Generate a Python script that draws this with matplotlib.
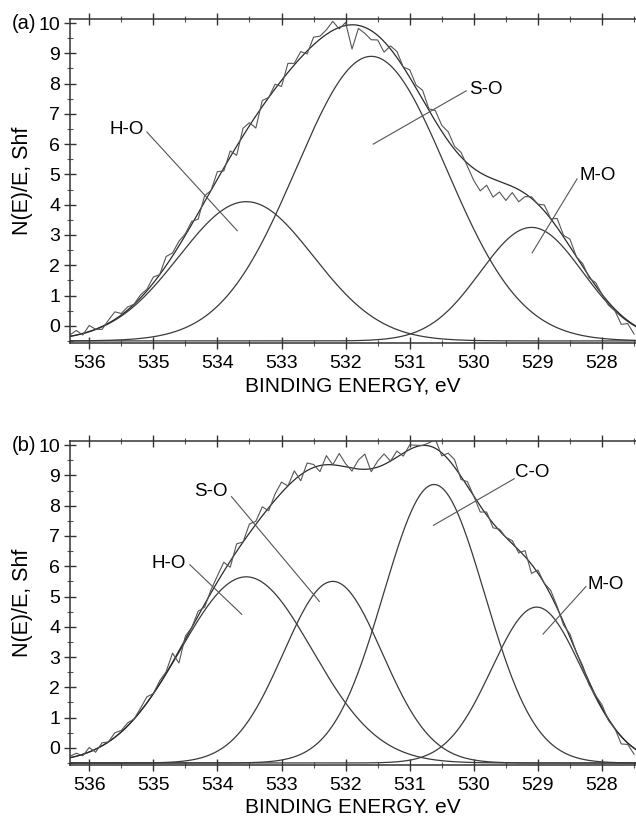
import numpy as np
import matplotlib
matplotlib.use("Agg")
import matplotlib.pyplot as plt
from matplotlib.ticker import MultipleLocator

plt.rcParams["font.family"] = ["Liberation Sans", "DejaVu Sans"]

# fitted components: name, centre (eV), height above baseline, sigma (eV)
baseline = -0.5
peaks_a_names = ["H-O", "S-O", "M-O"]
peaks_a_center = [533.55, 531.6, 529.1]
peaks_a_height = [4.6, 9.4, 3.75]
peaks_a_sigma = [1.05, 1.17, 0.8]

peaks_b_names = ["H-O", "S-O", "C-O", "M-O"]
peaks_b_center = [533.55, 532.2, 530.62, 529.02]
peaks_b_height = [6.15, 6.0, 9.2, 5.15]
peaks_b_sigma = [1.03, 0.77, 0.79, 0.7]

# measured spectrum, read as offsets from the fit envelope, 536.3 -> 527.5 eV in 0.1 eV steps
raw_energy = np.round(np.arange(536.3, 527.45, -0.1), 1)
resid_a = [0.05, 0.15, -0.05, 0.2, 0.0, -0.1, 0.1, 0.25, 0.05, 0.1,
           0.0, 0.1, 0.05, 0.2, 0.0, 0.3, 0.1, 0.15, 0.05, 0.1,
           -0.2, 0.2, 0.0, 0.25, -0.1, 0.2, -0.3, 0.25, 0.1, -0.4,
           0.2, 0.0, 0.15, -0.2, 0.3, 0.05, 0.2, -0.1, 0.25, 0.1,
           0.15, 0.3, -0.05, 0.1, -0.8, -0.1, -0.2, -0.3, -0.15, -0.35,
           0.1, 0.2, 0.0, 0.25, 0.1, 0.3, 0.05, 0.35, 0.2, 0.3,
           0.1, 0.15, -0.1, -0.4, -0.6, -0.3, -0.6, -0.35, -0.55, -0.2,
           -0.4, -0.1, 0.05, 0.0, 0.2, 0.0, 0.3, 0.05, 0.25, 0.0,
           0.1, -0.05, 0.1, 0.0, -0.1, -0.05, -0.3, -0.1, -0.3]
resid_b = [0.05, 0.1, -0.05, 0.15, -0.1, 0.1, 0.0, 0.15, 0.05, 0.1,
           0.0, 0.1, 0.2, 0.0, 0.1, 0.05, 0.3, -0.4, 0.1, 0.0,
           0.15, -0.1, 0.1, 0.2, 0.3, -0.2, 0.25, 0.0, 0.3, 0.1,
           0.3, -0.1, 0.2, 0.35, 0.0, 0.3, -0.2, 0.25, 0.1, -0.2,
           0.3, 0.0, 0.4, 0.1, -0.1, 0.3, 0.5, -0.1, 0.2, 0.35,
           0.0, 0.2, -0.1, 0.15, 0.05, 0.0, 0.1, 0.3, -0.1, 0.2,
           0.25, -0.1, 0.15, 0.0, -0.2, 0.1, -0.15, 0.05, 0.0, 0.1,
           -0.1, 0.2, -0.3, 0.1, 0.0, 0.15, 0.05, -0.1, 0.1, 0.0,
           0.05, -0.1, 0.0, 0.1, -0.05, 0.0, -0.25, -0.05, -0.2]

x_ticks = [536, 535, 534, 533, 532, 531, 530, 529, 528]
y_ticks = [0, 1, 2, 3, 4, 5, 6, 7, 8, 9, 10]

# label text position, line start, line end (data coords)
labels_a = [("H-O", (535.41, 6.47), (535.1, 6.4), (533.69, 3.14)),
            ("S-O", (529.81, 7.82), (530.12, 7.76), (531.57, 6.0)),
            ("M-O", (528.07, 4.98), (528.39, 4.85), (529.09, 2.41))]
labels_b = [("H-O", (534.76, 6.08), (534.43, 6.05), (533.62, 4.41)),
            ("S-O", (534.10, 8.46), (533.78, 8.3), (532.41, 4.84)),
            ("C-O", (529.09, 9.08), (529.37, 8.89), (530.63, 7.35)),
            ("M-O", (527.94, 5.39), (528.25, 5.33), (528.92, 3.76))]


def gauss(x, c, h, s):
    return h * np.exp(-(x - c) ** 2 / (2 * s ** 2))


def draw_panel(ax, centers, heights, sigmas, resid, labels, tag, xlabel):
    xs = np.linspace(536.3, 527.45, 600)
    total = np.full_like(xs, baseline)
    for c, h, s in zip(centers, heights, sigmas):
        ax.plot(xs, baseline + gauss(xs, c, h, s), color="#3a3a3a", lw=0.9)
        total += gauss(xs, c, h, s)
    ax.plot(xs, total, color="#2a2a2a", lw=0.9)

    fit_raw = baseline + sum(gauss(raw_energy, c, h, s) for c, h, s in zip(centers, heights, sigmas))
    ax.plot(raw_energy, fit_raw + np.array(resid), color="#555555", lw=0.8)

    for name, tpos, p0, p1 in labels:
        ax.text(tpos[0], tpos[1], name, fontsize=13.5, ha="center", va="center")
        ax.plot([p0[0], p1[0]], [p0[1], p1[1]], color="#555555", lw=0.8)

    ax.set_xlim(536.3, 527.47)
    ax.set_ylim(-0.56, 10.14)
    ax.set_xticks(x_ticks)
    ax.set_yticks(y_ticks)
    ax.xaxis.set_minor_locator(MultipleLocator(0.5))
    ax.yaxis.set_minor_locator(MultipleLocator(0.5))
    ax.tick_params(axis="both", which="major", direction="inout", length=8, width=1,
                   labelsize=14, color="#333333", top=True)
    ax.tick_params(axis="both", which="minor", direction="inout", length=5, width=0.8,
                   color="#555555", top=True)
    ax.tick_params(axis="x", pad=5)
    ax.tick_params(axis="y", pad=3)
    for sp in ["left", "bottom", "top"]:
        ax.spines[sp].set_linewidth(1.1)
        ax.spines[sp].set_color("#333333")
    ax.spines["right"].set_visible(False)
    ax.set_xlabel(xlabel, fontsize=15, labelpad=3)
    ax.set_ylabel("N(E)/E, Shf", fontsize=15.5, labelpad=4)
    ax.text(-0.1025, 0.985, tag, transform=ax.transAxes, fontsize=14.5, ha="left", va="center")


fig = plt.figure(figsize=(6.36, 8.18), dpi=100)
ax_a = fig.add_axes([0.110, 0.581, 0.890, 0.396])
ax_b = fig.add_axes([0.110, 0.065, 0.890, 0.396])

draw_panel(ax_a, peaks_a_center, peaks_a_height, peaks_a_sigma, resid_a, labels_a, "(a)",
           "BINDING ENERGY, eV")
draw_panel(ax_b, peaks_b_center, peaks_b_height, peaks_b_sigma, resid_b, labels_b, "(b)",
           "BINDING ENERGY. eV")

fig.savefig("out.png", dpi=100)
